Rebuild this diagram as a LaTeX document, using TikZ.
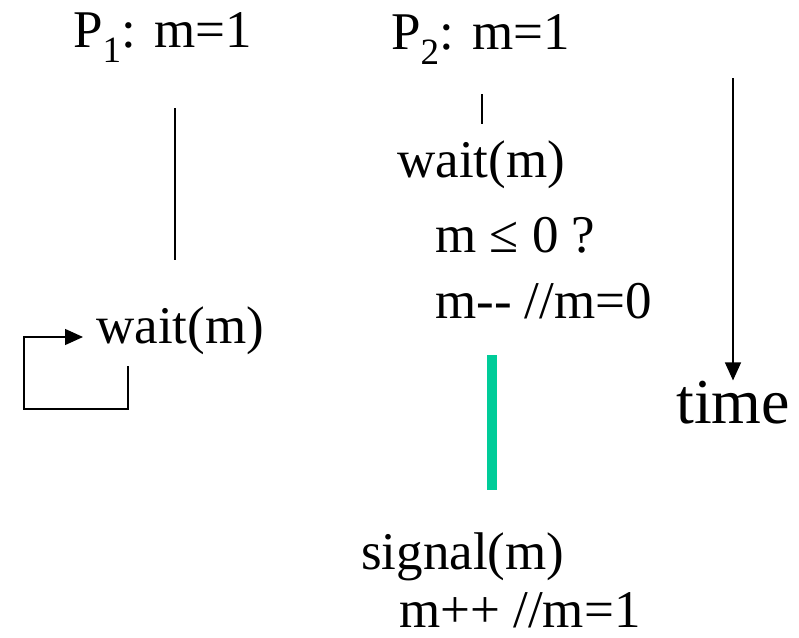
\documentclass[tikz,border=0pt]{standalone}
\usepackage{fontspec}
\setmainfont{Liberation Serif}
\usepackage{tikz}
\usetikzlibrary{arrows.meta, positioning}
\definecolor{lockgreen}{HTML}{00CC99}

\begin{document}
\begin{tikzpicture}[
  x=1pt, y=-1pt,
  every node/.style={font=\fontsize{53}{60}\selectfont, inner sep=0pt, anchor=base west},
  line/.style={line width=1.3pt},
  arr/.style={line, -{Triangle[length=18pt, width=16pt]}},
  crit/.style={line width=10pt, draw=lockgreen}
]
\useasboundingbox (0,0) rectangle (799,637);

% --- Process headers ---
\node (p1) at (73,47)  {P\textsubscript{1}: m=1};
\node (p2) at (391,49) {P\textsubscript{2}: m=1};

% --- P1 ---
\coordinate (p1top) at (175,108);
\coordinate (p1bot) at (175,260);
\node (waitA) at (96,343) {wait(m)};
\coordinate (loopA) at (128,366);
\coordinate (loopB) at (128,409);
\coordinate (loopC) at (24,409);
\coordinate (loopD) at (24,337);

% --- P2 ---
\coordinate (p2top) at (482,94);
\coordinate (p2bot) at (482,124);
\node (waitB)  at (397,177) {wait(m)};
\node (test)   at (435,252) {m ≤ 0 ?};
\node (dec)    at (435,318) {m-{}- //m=0};
\coordinate (csTop) at (492,355);
\coordinate (csBot) at (492,490);
\node (signal) at (361,569) {signal(m)};
\node (inc)    at (399,627) {m++ //m=1};

% --- Time axis ---
\coordinate (ttop) at (733,78);
\node[font=\fontsize{64}{70}\selectfont] (time) at (676,423) {time};

% --- Lines ---
\draw[line] (p1top) -- (p1bot);
\draw[line] (p2top) -- (p2bot);
\draw[crit] (csTop) -- (csBot);
\draw[arr, shorten >=13pt] (loopA) -- (loopB) -- (loopC) -- (loopD) -- (loopD -| waitA.west);
\draw[arr]  (ttop) -- (ttop |- time.north);

\end{tikzpicture}
\end{document}
